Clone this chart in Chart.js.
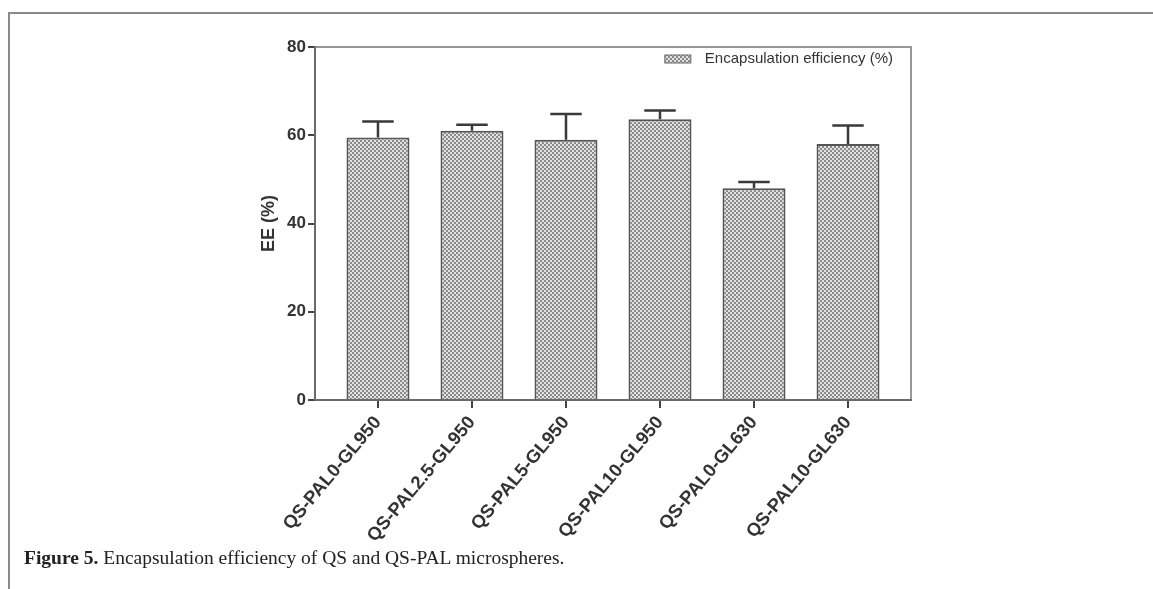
<!DOCTYPE html>
<html>
<head>
<meta charset="utf-8">
<script src="https://cdn.jsdelivr.net/npm/chart.js@4.4.0/dist/chart.umd.min.js"></script>
<style>
  html, body { margin: 0; padding: 0; background: #fff; }
  #wrap { position: relative; width: 1153px; height: 589px; overflow: hidden; }
  #frame { position: absolute; left: 8px; top: 12px; right: -4px; bottom: -4px;
           border-left: 2px solid #8a8a8a; border-top: 2px solid #8a8a8a; }
  #chartBox { position: absolute; left: 0; top: 0; width: 1153px; height: 560px; }
  #caption { position: absolute; left: 24px; top: 547px; font-family: "Liberation Serif", serif;
             font-size: 19.5px; color: #222; letter-spacing: 0; }
  #caption b { font-weight: bold; }
</style>
</head>
<body>
<div id="wrap">
  <div id="frame"></div>
  <div id="chartBox"><canvas id="myChart"></canvas></div>
  <div id="caption"><b>Figure 5.</b> Encapsulation efficiency of QS and QS-PAL microspheres.</div>
</div>
<script>
var categories = ['QS-PAL0-GL950', 'QS-PAL2.5-GL950', 'QS-PAL5-GL950', 'QS-PAL10-GL950', 'QS-PAL0-GL630', 'QS-PAL10-GL630'];
var eeValues = [59.5, 61.0, 59.0, 63.6, 48.0, 58.0];
var eeUpper = [63.1, 62.4, 64.8, 65.6, 49.4, 62.2];
var yTicks = [0, 20, 40, 60, 80];

var ctx = document.getElementById("myChart").getContext("2d");

// dotted fill like the original print
var pc = document.createElement('canvas');
pc.width = 4; pc.height = 4;
var p = pc.getContext('2d');
p.fillStyle = '#e2e2e2';
p.fillRect(0, 0, 4, 4);
p.fillStyle = '#8a8a8a';
p.fillRect(0, 0, 2, 2);
p.fillRect(2, 2, 2, 2);
var dots = ctx.createPattern(pc, 'repeat');

var errorBars = {
  id: 'errorBars',
  afterDatasetsDraw: function(chart) {
    var meta = chart.getDatasetMeta(0);
    var y = chart.scales.y;
    var c = chart.ctx;
    c.save();
    c.strokeStyle = '#3a3a3a';
    c.lineWidth = 2.5;
    meta.data.forEach(function(bar, i) {
      var top = y.getPixelForValue(eeUpper[i]);
      var half = bar.width / 4;
      c.beginPath();
      c.moveTo(bar.x, bar.y);
      c.lineTo(bar.x, top);
      c.moveTo(bar.x - half, top);
      c.lineTo(bar.x + half, top);
      c.stroke();
    });
    c.restore();
  }
};

// plot box + legend drawn inside the top right corner
var boxFrame = {
  id: 'boxFrame',
  beforeDatasetsDraw: function(chart) {
    var a = chart.chartArea;
    var c = chart.ctx;
    c.save();
    c.strokeStyle = '#777';
    c.lineWidth = 1.5;
    c.strokeRect(a.left, a.top, a.right - a.left, a.bottom - a.top);
    c.restore();
  },
  afterDraw: function(chart) {
    var a = chart.chartArea;
    var c = chart.ctx;
    var label = chart.data.datasets[0].label;
    c.save();
    c.font = '15px "Liberation Sans"';
    var w = c.measureText(label).width;
    var tx = a.right - 18 - w;
    var cy = a.top + 12;
    c.fillStyle = '#333';
    c.textBaseline = 'middle';
    c.fillText(label, tx, cy);
    c.fillStyle = dots;
    c.fillRect(tx - 40, cy - 4, 26, 8);
    c.strokeStyle = '#666';
    c.lineWidth = 1;
    c.strokeRect(tx - 40, cy - 4, 26, 8);
    c.restore();
  }
};

new Chart(ctx, {
  type: 'bar',
  data: {
    datasets: [{
      label: 'Encapsulation efficiency (%)',
      data: eeValues.map(function(v, i) { return { x: i, y: v }; }),
      backgroundColor: dots,
      borderColor: '#555',
      borderWidth: 2,
      categoryPercentage: 1,
      barPercentage: 0.67
    }]
  },
  plugins: [boxFrame, errorBars],
  options: {
    responsive: true,
    maintainAspectRatio: false,
    animation: false,
    layout: { padding: { left: 254, right: 242, top: 47, bottom: 0 } },
    plugins: {
      tooltip: { enabled: false },
      legend: { display: false }
    },
    scales: {
      x: {
        type: 'linear',
        offset: false,
        min: -0.67,
        max: 5.67,
        afterBuildTicks: function(s) {
          s.ticks = categories.map(function(c, i) { return { value: i }; });
        },
        afterFit: function(s) { s.height = 160; },
        grid: { offset: false, drawOnChartArea: false, tickLength: 8, color: '#444', lineWidth: 2 },
        border: { color: '#444', width: 2 },
        ticks: {
          autoSkip: false,
          minRotation: 50,
          maxRotation: 50,
          padding: 4,
          color: '#333',
          font: { family: 'Liberation Sans', size: 18.5, weight: 'bold' },
          callback: function(v) { return categories[v]; }
        }
      },
      y: {
        min: 0,
        max: 80,
        afterBuildTicks: function(s) {
          s.ticks = yTicks.map(function(v) { return { value: v }; });
        },
        afterFit: function(s) { s.width = 61; },
        title: {
          display: true,
          text: 'EE (%)',
          color: '#333',
          font: { family: 'Liberation Sans', size: 18, weight: 'bold' }
        },
        grid: { drawOnChartArea: false, tickLength: 7, color: '#444', lineWidth: 2 },
        border: { color: '#444', width: 2 },
        ticks: {
          padding: 2,
          color: '#333',
          font: { family: 'Liberation Sans', size: 17, weight: 'bold' }
        }
      }
    }
  }
});
</script>
</body>
</html>
